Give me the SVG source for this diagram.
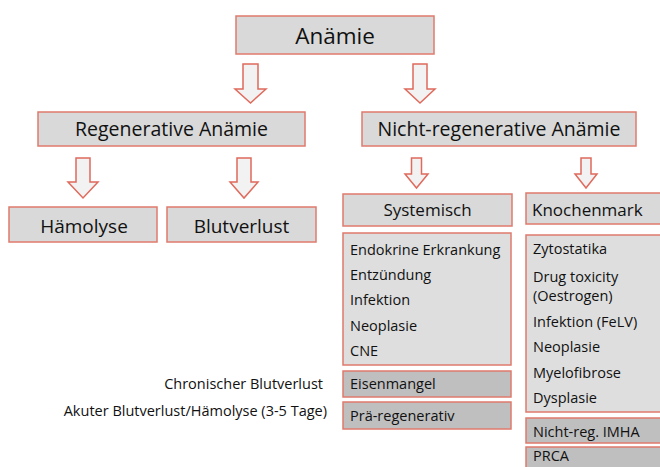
<svg xmlns="http://www.w3.org/2000/svg" width="660" height="467" viewBox="0 0 660 467">
<style>
text{font-family:"Open Sans","Noto Sans","Liberation Sans",sans-serif;fill:#111}
.box{fill:#d9d9d9;stroke:#e07a6c;stroke-width:1.5}
.list{fill:#dedede;stroke:#e07a6c;stroke-width:1.5}
.dark{fill:#bfbfbf;stroke:#e07a6c;stroke-width:1.5}
.arr{fill:#f2f2f2;stroke:#e06a5c;stroke-width:1.5;stroke-linejoin:miter}
.t1{font-size:22.5px;text-anchor:middle}
.t2{font-size:19.5px;text-anchor:middle}
.t3{font-size:19px;text-anchor:middle}
.t4{font-size:17px}
.t5{font-size:14.5px}
</style>
<rect width="660" height="467" fill="#fff"/>
<g id="anaemie"><rect class="box" x="236" y="16" width="198" height="38"/><text class="t1" x="335" y="44">Anämie</text></g>
<g id="regenerative"><rect class="box" x="38" y="112" width="267" height="34"/><text class="t2" x="171.5" y="136">Regenerative Anämie</text></g>
<g id="nichtregenerative"><rect class="box" x="362" y="112" width="274" height="34"/><text class="t2" x="499" y="136">Nicht-regenerative Anämie</text></g>
<g id="haemolyse"><rect class="box" x="9" y="207" width="148" height="35"/><text class="t3" x="84" y="233">Hämolyse</text></g>
<g id="blutverlust"><rect class="box" x="167" y="207" width="149" height="35"/><text class="t3" x="241.5" y="233">Blutverlust</text></g>
<g id="systemisch"><rect class="box" x="343" y="194" width="169" height="32"/><text class="t4" x="427.5" y="216" text-anchor="middle">Systemisch</text></g>
<g id="knochenmark"><rect class="box" x="526" y="193" width="140" height="31"/><text class="t4" x="532" y="216">Knochenmark</text></g>
<g id="systemisch-liste"><rect class="list" x="343" y="233" width="168" height="132"/>
<text class="t5" x="350" y="255">Endokrine Erkrankung</text>
<text class="t5" x="350" y="280">Entzündung</text>
<text class="t5" x="350" y="305">Infektion</text>
<text class="t5" x="350" y="331">Neoplasie</text>
<text class="t5" x="350" y="356">CNE</text></g>
<g id="eisenmangel"><rect class="dark" x="343" y="371" width="168" height="26"/><text class="t5" x="350" y="389">Eisenmangel</text></g>
<g id="praeregenerativ"><rect class="dark" x="343" y="402" width="168" height="27"/><text class="t5" x="350" y="421">Prä-regenerativ</text></g>
<g id="knochenmark-liste"><rect class="list" x="526" y="235" width="140" height="177"/>
<text class="t5" x="533" y="254">Zytostatika</text>
<text class="t5" x="533" y="282">Drug toxicity</text>
<text class="t5" x="533" y="301">(Oestrogen)</text>
<text class="t5" x="533" y="327">Infektion (FeLV)</text>
<text class="t5" x="533" y="352">Neoplasie</text>
<text class="t5" x="533" y="378">Myelofibrose</text>
<text class="t5" x="533" y="403">Dysplasie</text></g>
<g id="imha"><rect class="dark" x="526" y="418" width="140" height="25"/><text class="t5" x="533" y="437">Nicht-reg. IMHA</text></g>
<g id="prca"><rect class="dark" x="526" y="447" width="140" height="30"/><text class="t5" x="533" y="461">PRCA</text></g>
<g id="chronisch"><text class="t5" x="323" y="389" text-anchor="end">Chronischer Blutverlust</text></g>
<g id="akut"><text class="t5" x="327" y="416" text-anchor="end">Akuter Blutverlust/Hämolyse (3-5 Tage)</text></g>
<g id="connectors">
<path class="arr" d="M243,64 H258 V89 H266 L250.5,103 L235,89 H243 Z"/>
<path class="arr" d="M413,64 H427 V89 H435 L420,103 L405,89 H413 Z"/>
<path class="arr" d="M76,158 H90 V182 H98 L83,198 L68,182 H76 Z"/>
<path class="arr" d="M237,158 H251 V182 H258 L244,198 L230,182 H237 Z"/>
<path class="arr" d="M411.5,158 H421.5 V174 H428 L416.5,188 L405,174 H411.5 Z"/>
<path class="arr" d="M581,158 H591 V174 H597 L586,188 L575,174 H581 Z"/>
</g>
</svg>
